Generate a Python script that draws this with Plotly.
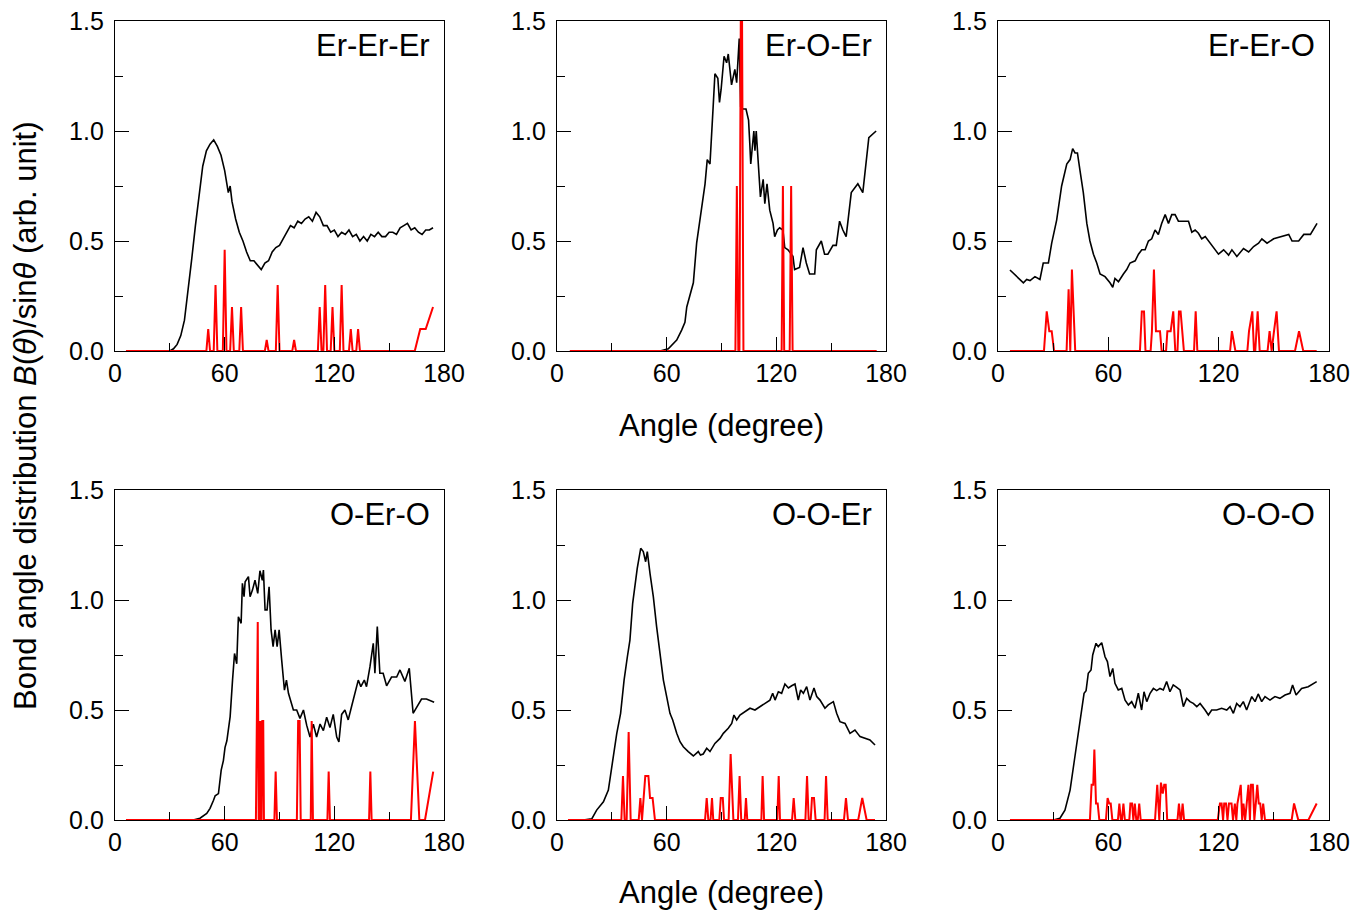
import plotly.graph_objects as go

# ---------------- data (angle in degrees, B(theta)/sin(theta)) ----------------
panel_names = ["Er-Er-Er", "Er-O-Er", "Er-Er-O", "O-Er-O", "O-O-Er", "O-O-O"]

EEE_black = [(30, 0.00), (32, 0.01), (34, 0.03), (36, 0.07), (38, 0.14), (40, 0.27), (42, 0.42),
             (44, 0.57), (46, 0.70), (48, 0.84), (50, 0.91), (52, 0.94), (54, 0.96), (56, 0.93),
             (58, 0.89), (60, 0.82), (62, 0.72), (63, 0.75), (64, 0.68), (66, 0.60), (68, 0.54),
             (70, 0.50), (72, 0.45), (74, 0.41), (76, 0.41), (78, 0.39), (80, 0.37), (82, 0.40),
             (84, 0.41), (86, 0.45), (88, 0.47), (90, 0.48), (92, 0.51), (94, 0.54), (96, 0.57),
             (98, 0.56), (100, 0.59), (102, 0.58), (104, 0.60), (106, 0.61), (108, 0.59), (110, 0.63),
             (112, 0.61), (114, 0.57), (116, 0.57), (118, 0.54), (120, 0.55), (122, 0.52), (124, 0.54),
             (126, 0.53), (128, 0.55), (130, 0.52), (132, 0.53), (134, 0.50), (136, 0.52), (138, 0.50),
             (140, 0.53), (142, 0.52), (144, 0.54), (146, 0.52), (148, 0.52), (150, 0.54), (152, 0.54),
             (154, 0.53), (156, 0.56), (158, 0.57), (160, 0.58), (162, 0.55), (164, 0.56), (166, 0.54),
             (168, 0.53), (170, 0.55), (172, 0.55), (174, 0.56)]
EEE_red = [(6, 0), (50, 0), (51, 0.1), (52, 0), (54, 0), (55, 0.3), (56, 0), (59, 0), (60, 0.46),
           (61, 0), (63, 0), (64, 0.2), (65, 0), (68, 0), (69, 0.2), (70, 0), (82, 0), (83, 0.05),
           (84, 0), (88, 0), (89, 0.3), (90, 0), (97, 0), (98, 0.05), (99, 0), (111, 0), (112, 0.2),
           (113, 0), (114, 0), (115, 0.3), (116, 0), (118, 0), (119, 0.2), (120, 0), (123, 0),
           (124, 0.3), (125, 0), (128, 0), (129, 0.1), (130, 0), (132, 0), (133, 0.1), (134, 0),
           (164, 0), (167, 0.1), (170, 0.1), (174, 0.2)]

EOE_black = [(50, 0.0), (56.4, 0.0), (60.9, 0.01), (65.5, 0.05), (68.2, 0.095), (70.0, 0.13), (71.0, 0.20),
             (74.6, 0.31), (76.4, 0.49), (79.2, 0.67), (81.0, 0.76), (82.2, 0.87), (83.7, 0.85),
             (85.5, 1.12), (86.4, 1.26), (88.0, 1.24), (88.9, 1.13), (89.8, 1.19), (91.4, 1.34),
             (92.8, 1.31), (93.7, 1.35), (95.5, 1.21), (97.3, 1.28), (98.3, 1.22), (99.7, 1.42),
             (100.5, 1.11), (101.9, 1.10), (103.4, 1.10), (104.8, 1.05), (105.5, 0.94), (106.0, 0.85),
             (107.7, 1.00), (108.3, 0.91), (109.0, 1.00), (110.6, 0.79), (111.3, 0.70), (112.8, 0.78),
             (113.7, 0.67), (114.9, 0.76), (116.4, 0.64), (118.2, 0.58), (119.1, 0.52), (120.6, 0.55),
             (121.8, 0.56), (123.6, 0.55), (124.6, 0.47), (126.4, 0.46), (129.1, 0.43), (130.0, 0.37),
             (132.7, 0.38), (134.6, 0.47), (136.4, 0.40), (138.2, 0.35), (141.0, 0.35), (141.9, 0.46),
             (144.6, 0.50), (146.4, 0.44), (148.2, 0.44), (151.0, 0.48), (152.8, 0.48), (154.6, 0.59),
             (156.4, 0.55), (158.2, 0.52), (161.0, 0.72), (164.6, 0.76), (167.3, 0.72), (170.6, 0.97),
             (174.6, 1.00)]
EOE_red = [(7, 0), (97.6, 0), (98.4, 0.75), (99.2, 0), (99.8, 0), (100.9, 2.2), (102.0, 0),
           (122.9, 0), (123.6, 0.75), (124.3, 0), (127.3, 0), (128.1, 0.75), (128.9, 0), (174.9, 0)]

EEO_black = [(6.5, 0.368), (10.1, 0.338), (13.8, 0.31), (15.6, 0.325), (17.4, 0.32), (20.1, 0.338),
             (22.8, 0.325), (24.6, 0.40), (27.4, 0.40), (29.2, 0.49), (31.9, 0.595), (34.6, 0.75),
             (37.4, 0.85), (39.2, 0.87), (40.6, 0.92), (41.9, 0.90), (43.2, 0.90), (44.6, 0.82),
             (46.4, 0.72), (48.3, 0.58), (50.0, 0.50), (51.9, 0.44), (53.7, 0.40), (55.5, 0.35),
             (58.2, 0.338), (60.9, 0.31), (62.4, 0.29), (63.6, 0.33), (65.5, 0.315), (68.2, 0.35),
             (70.0, 0.37), (71.8, 0.40), (74.6, 0.41), (76.4, 0.44), (78.2, 0.46), (80.0, 0.46),
             (81.8, 0.50), (83.6, 0.51), (85.4, 0.55), (87.2, 0.53), (89.0, 0.58), (90.9, 0.62),
             (92.7, 0.58), (94.5, 0.62), (96.3, 0.62), (98.1, 0.59), (100.8, 0.59), (103.6, 0.59),
             (105.4, 0.54), (107.2, 0.55), (109.0, 0.535), (110.8, 0.51), (112.7, 0.52), (115.4, 0.49),
             (117.2, 0.466), (119.9, 0.44), (122.7, 0.46), (125.4, 0.436), (127.2, 0.46), (129.9, 0.43),
             (133.5, 0.466), (136.3, 0.45), (139.0, 0.475), (141.7, 0.49), (143.5, 0.51), (146.3, 0.49),
             (149.9, 0.51), (153.5, 0.52), (158.1, 0.53), (159.9, 0.50), (163.5, 0.50), (166.3, 0.53),
             (169.9, 0.53), (173.5, 0.58)]
EEO_red = [(6.5, 0), (25.0, 0), (26.5, 0.18), (27.9, 0.09), (29.2, 0.09), (30.5, 0), (37.3, 0),
           (38.4, 0.28), (39.3, 0), (40.2, 0.37), (42.0, 0), (77.2, 0), (78.2, 0.18), (79.4, 0.18),
           (80.2, 0), (83.0, 0), (83.7, 0.09), (84.8, 0.37), (85.9, 0.09), (88.1, 0.09), (89.0, 0),
           (91.4, 0), (92.1, 0.09), (93.9, 0.09), (95.3, 0.18), (96.4, 0), (97.6, 0), (98.4, 0.18),
           (99.3, 0.18), (100.2, 0.09), (101.1, 0), (106.6, 0), (107.5, 0.18), (108.4, 0),
           (126.2, 0), (127.2, 0.09), (129.1, 0), (135.6, 0), (136.5, 0.09), (138.3, 0.18),
           (139.2, 0), (139.9, 0), (141.2, 0.18), (142.3, 0), (146.6, 0), (147.7, 0.09), (148.8, 0),
           (150.1, 0.09), (151.5, 0.18), (152.8, 0), (161.5, 0), (163.7, 0.09), (166.0, 0), (173.3, 0)]

OEO_black = [(42.8, 0.0), (46.5, 0.008), (50.2, 0.03), (52.0, 0.053), (53.9, 0.09), (54.8, 0.11),
             (56.6, 0.12), (58.1, 0.227), (59.3, 0.27), (60.2, 0.33), (61.2, 0.36), (63.0, 0.47),
             (64.3, 0.636), (65.4, 0.757), (66.6, 0.71), (67.5, 0.924), (69.0, 0.894), (69.7, 1.076),
             (70.6, 1.015), (71.2, 1.083), (73.0, 1.106), (73.9, 1.015), (75.2, 1.045), (76.6, 1.09),
             (78.1, 1.03), (79.3, 1.133), (80.6, 1.09), (81.2, 1.136), (82.1, 0.955), (83.2, 0.955),
             (84.3, 1.06), (85.4, 0.864), (86.5, 0.788), (87.6, 0.864), (88.7, 0.788), (89.8, 0.864),
             (91.2, 0.727), (92.7, 0.59), (93.8, 0.636), (94.9, 0.576), (97.6, 0.50), (99.4, 0.50),
             (101.2, 0.462), (103.1, 0.50), (104.9, 0.43), (106.7, 0.377), (108.5, 0.436),
             (110.3, 0.377), (112.2, 0.436), (114.0, 0.406), (115.8, 0.467), (117.6, 0.42),
             (119.4, 0.48), (121.3, 0.377), (122.5, 0.355), (124.0, 0.48), (125.8, 0.50),
             (127.6, 0.455), (129.4, 0.515), (131.3, 0.576), (133.1, 0.636), (134.5, 0.606),
             (136.4, 0.636), (137.6, 0.606), (139.5, 0.697), (141.3, 0.803), (142.2, 0.667),
             (143.5, 0.879), (144.9, 0.667), (146.7, 0.667), (148.6, 0.61), (151.3, 0.65),
             (154.1, 0.65), (155.9, 0.682), (158.6, 0.63), (161.0, 0.69), (163.1, 0.485),
             (167.7, 0.55), (170.4, 0.55), (174.6, 0.535)]
OEO_red = [(6, 0), (77.1, 0), (78.1, 0.9), (78.6, 0), (79.0, 0.45), (79.4, 0), (79.8, 0.45),
           (80.2, 0), (80.6, 0.45), (81.1, 0.45), (81.5, 0), (87.2, 0), (87.9, 0.22), (88.6, 0),
           (99.5, 0), (100.2, 0.45), (101.0, 0.45), (101.6, 0), (107.1, 0), (107.6, 0.45), (108.3, 0),
           (116.2, 0), (116.9, 0.22), (117.6, 0), (139.0, 0), (139.7, 0.22), (140.4, 0),
           (161.9, 0), (164.1, 0.45), (166.5, 0), (169.6, 0), (174.1, 0.22)]

OOE_black = [(14.4, 0.0), (19.0, 0.005), (21.7, 0.045), (25.4, 0.083), (28.1, 0.136), (29.9, 0.24),
             (32.7, 0.394), (34.8, 0.485), (36.7, 0.636), (38.5, 0.742), (39.9, 0.818), (41.4, 0.985),
             (42.9, 1.09), (43.9, 1.144), (45.8, 1.235), (47.2, 1.22), (48.5, 1.174), (49.4, 1.22),
             (50.9, 1.12), (52.7, 1.015), (54.5, 0.879), (56.4, 0.758), (58.2, 0.636), (60.0, 0.561),
             (61.8, 0.485), (63.3, 0.455), (65.5, 0.394), (67.3, 0.356), (69.1, 0.333), (71.8, 0.311),
             (74.6, 0.291), (77.3, 0.311), (78.5, 0.295), (80.0, 0.30), (81.9, 0.326), (83.7, 0.311),
             (86.4, 0.348), (89.2, 0.371), (91.0, 0.394), (93.7, 0.417), (95.6, 0.439), (96.8, 0.477),
             (98.3, 0.455), (100.1, 0.477), (102.9, 0.492), (105.6, 0.508), (108.3, 0.50),
             (111.1, 0.515), (113.8, 0.53), (116.5, 0.545), (118.0, 0.576), (119.3, 0.545),
             (121.1, 0.583), (122.9, 0.576), (124.7, 0.618), (126.6, 0.60), (128.4, 0.61),
             (130.2, 0.618), (132.0, 0.545), (133.3, 0.591), (134.8, 0.576), (136.6, 0.606),
             (138.4, 0.545), (140.6, 0.60), (142.1, 0.561), (143.9, 0.545), (146.6, 0.508),
             (148.4, 0.523), (151.2, 0.538), (153.0, 0.485), (154.8, 0.447), (157.6, 0.439),
             (160.3, 0.394), (163.0, 0.409), (165.8, 0.379), (168.5, 0.371), (171.2, 0.364),
             (174.0, 0.341)]
OOE_red = [(6, 0), (35.2, 0), (36.1, 0.2), (37.0, 0), (38.1, 0), (39.2, 0.4), (40.3, 0), (44.7, 0),
           (45.6, 0.1), (46.5, 0), (48.3, 0.2), (50.0, 0.2), (50.9, 0.1), (52.3, 0.1), (53.6, 0),
           (81.0, 0), (81.9, 0.1), (82.8, 0), (84.0, 0), (84.8, 0.1), (85.5, 0), (88.8, 0),
           (89.6, 0.1), (90.7, 0.1), (91.4, 0), (93.9, 0), (95.0, 0.3), (96.5, 0), (99.0, 0),
           (99.9, 0.2), (100.8, 0), (102.7, 0), (103.4, 0.1), (104.1, 0), (111.8, 0), (112.5, 0.2),
           (113.3, 0), (120.5, 0), (121.3, 0.2), (122.0, 0), (128.6, 0), (129.5, 0.1), (130.4, 0),
           (135.9, 0), (136.8, 0.2), (137.7, 0), (138.8, 0), (139.5, 0.1), (140.6, 0.1), (141.5, 0),
           (146.4, 0), (147.2, 0.2), (148.1, 0), (157.0, 0), (158.1, 0.1), (159.2, 0), (164.8, 0),
           (167.0, 0.1), (169.4, 0), (174.0, 0)]

OOO_black = [(30.1, 0.0), (33.7, 0.008), (36.4, 0.045), (39.2, 0.136), (41.3, 0.258), (43.1, 0.364),
             (45.0, 0.485), (46.8, 0.576), (47.9, 0.588), (49.1, 0.667), (50.6, 0.682), (51.5, 0.75),
             (53.3, 0.803), (54.5, 0.788), (56.4, 0.806), (58.2, 0.742), (59.5, 0.72), (60.9, 0.652),
             (62.4, 0.689), (63.6, 0.621), (65.4, 0.591), (67.3, 0.598), (69.1, 0.545), (70.9, 0.523),
             (72.7, 0.538), (74.5, 0.508), (76.3, 0.576), (78.1, 0.50), (79.4, 0.583), (80.9, 0.538),
             (82.7, 0.576), (84.5, 0.598), (86.3, 0.588), (88.1, 0.598), (89.9, 0.591), (91.7, 0.629),
             (93.5, 0.583), (95.3, 0.614), (97.2, 0.603), (99.0, 0.591), (100.8, 0.515),
             (102.6, 0.553), (104.4, 0.538), (106.2, 0.53), (108.1, 0.515), (109.9, 0.53),
             (112.6, 0.50), (114.4, 0.477), (116.2, 0.50), (118.9, 0.50), (121.6, 0.508),
             (124.4, 0.50), (126.2, 0.515), (128.0, 0.485), (129.8, 0.53), (131.6, 0.515),
             (133.4, 0.538), (135.2, 0.50), (138.0, 0.561), (139.8, 0.538), (141.5, 0.573),
             (143.4, 0.538), (145.2, 0.561), (147.9, 0.545), (150.6, 0.561), (153.3, 0.553),
             (156.1, 0.568), (158.8, 0.576), (160.2, 0.614), (162.1, 0.568), (165.1, 0.598),
             (168.7, 0.606), (173.3, 0.629)]
OOO_red = [(6.5, 0), (50.0, 0), (50.9, 0.16), (51.8, 0.16), (52.4, 0.32), (53.3, 0.075), (54.2, 0.075),
           (55.1, 0), (58.7, 0), (59.6, 0.1), (60.5, 0.075), (61.3, 0.075), (62.2, 0), (65.2, 0),
           (66.0, 0.075), (66.8, 0), (67.4, 0), (68.2, 0.075), (69.0, 0), (71.4, 0), (72.0, 0.075),
           (72.9, 0.075), (73.6, 0), (74.4, 0.075), (75.2, 0), (76.0, 0), (76.8, 0.075), (77.6, 0),
           (85.4, 0), (86.6, 0.16), (87.7, 0), (88.6, 0.17), (89.6, 0.12), (90.4, 0.16), (91.2, 0.16),
           (92.0, 0), (97.6, 0), (98.4, 0.075), (99.2, 0), (99.6, 0), (100.4, 0.075), (101.2, 0),
           (119.5, 0), (120.7, 0.075), (121.6, 0.075), (122.4, 0), (123.0, 0.075), (124.0, 0.075),
           (124.8, 0), (125.6, 0.075), (127.0, 0.075), (127.8, 0), (128.8, 0.075), (129.6, 0),
           (130.2, 0.075), (132.0, 0.16), (132.8, 0), (133.5, 0.075), (134.4, 0), (135.2, 0.075),
           (136.2, 0.16), (137.0, 0), (137.6, 0.16), (138.6, 0.16), (139.4, 0), (140.2, 0.075),
           (141.0, 0.16), (141.8, 0.075), (142.6, 0.075), (143.4, 0), (144.2, 0.075), (145.2, 0),
           (159.7, 0), (161.0, 0.075), (163.3, 0), (168.8, 0), (173.3, 0.075)]

black_series = [EEE_black, EOE_black, EEO_black, OEO_black, OOE_black, OOO_black]
red_series = [EEE_red, EOE_red, EEO_red, OEO_red, OOE_red, OOO_red]

x_tick_vals = [0, 60, 120, 180]
y_tick_vals = [0.0, 0.5, 1.0, 1.5]

# ---------------- layout geometry (pixel frame of the figure) ----------------
W, H = 1368, 910
col_px = [(115, 444), (557, 886), (998, 1329)]
row_px = [(21, 351), (490, 820)]

FONT = "Liberation Sans, Arial, Helvetica, sans-serif"

fig = go.Figure()
layout = dict(
    width=W, height=H, margin=dict(l=0, r=0, t=0, b=0, pad=0, autoexpand=False),
    paper_bgcolor="white", plot_bgcolor="white", showlegend=False,
    font=dict(family=FONT, color="black", size=25),
)
annotations = []

for i, name in enumerate(panel_names):
    r, c = divmod(i, 3)
    k = i + 1
    xs = "" if k == 1 else str(k)
    bx, by = zip(*black_series[i])
    rx, ry = zip(*red_series[i])
    fig.add_trace(go.Scatter(x=bx, y=by, mode="lines", line=dict(color="black", width=1.6),
                             xaxis="x" + xs, yaxis="y" + xs, hoverinfo="skip"))
    fig.add_trace(go.Scatter(x=rx, y=ry, mode="lines", line=dict(color="#ff0000", width=2),
                             xaxis="x" + xs, yaxis="y" + xs, hoverinfo="skip"))
    x0, x1 = col_px[c]
    y0, y1 = row_px[r]
    common = dict(showgrid=False, zeroline=False, showline=True, linecolor="black", linewidth=1.3,
                  mirror=True, ticks="inside", tickcolor="black", tickwidth=1.3, ticklen=14,
                  automargin=False, tickfont=dict(family=FONT, size=25, color="black"))
    layout["xaxis" + xs] = dict(common, domain=[x0 / W, x1 / W], range=[0, 180],
                                tickvals=x_tick_vals, ticktext=[str(v) for v in x_tick_vals],
                                minor=dict(tickvals=[30, 90, 150], ticks="inside", ticklen=8,
                                           tickcolor="black", tickwidth=1.3),
                                anchor="y" + xs)
    layout["yaxis" + xs] = dict(common, domain=[1 - y1 / H, 1 - y0 / H], range=[0, 1.5],
                                tickvals=y_tick_vals, ticktext=["%.1f" % v for v in y_tick_vals],
                                ticklabelstandoff=5,
                                minor=dict(tickvals=[0.25, 0.75, 1.25], ticks="inside", ticklen=8,
                                           tickcolor="black", tickwidth=1.3),
                                anchor="x" + xs)
    annotations.append(dict(text=name, xref="x" + xs + " domain", yref="y" + xs + " domain",
                            x=0.965, y=0.925, xanchor="right", yanchor="middle", showarrow=False,
                            font=dict(family=FONT, size=31, color="black")))

for ty in [1 - 425 / H, 1 - 892 / H]:
    annotations.append(dict(text="Angle (degree)", xref="paper", yref="paper", x=721 / W, y=ty,
                            xanchor="center", yanchor="middle", showarrow=False,
                            font=dict(family=FONT, size=31, color="black")))

annotations.append(dict(text="Bond angle distribution <i>B</i>(<i>θ</i>)/sin<i>θ</i> (arb. unit)",
                        xref="paper", yref="paper", x=26 / W, y=1 - 416 / H, textangle=-90,
                        xanchor="center", yanchor="middle", showarrow=False,
                        font=dict(family=FONT, size=31, color="black")))

layout["annotations"] = annotations
fig.update_layout(**layout)
fig.write_html("out.html")
